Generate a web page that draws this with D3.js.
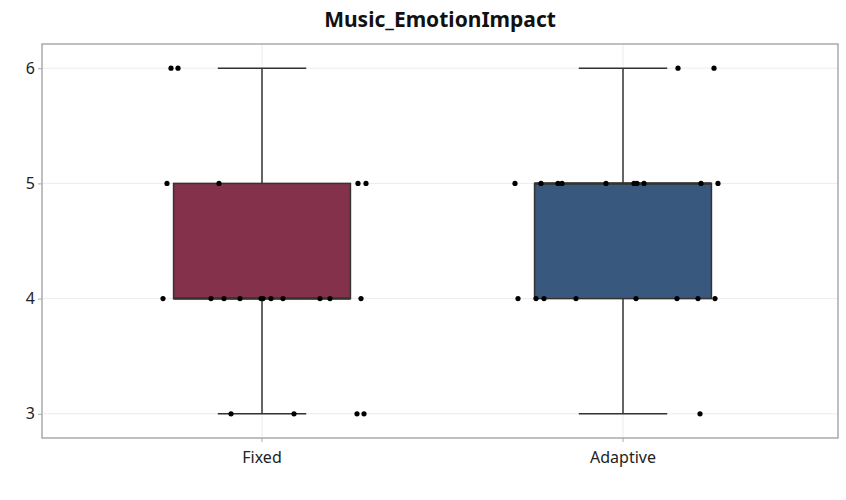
<!DOCTYPE html>
<html><head><meta charset="utf-8">
<script src="https://cdn.jsdelivr.net/npm/d3@7.9.0/dist/d3.min.js"></script>
<style>body{margin:0;background:#fff}svg{font-family:"Noto Sans",sans-serif}</style>
</head><body><svg id="chart" width="846" height="500"></svg>
<script>
const groups = ['Fixed', 'Adaptive'];
const colors = ['#84324b', '#38587e'];
const yTicks = [3, 4, 5, 6];
// box stats: [min, q1, median, q3, max]
const fixedStats = [3, 4, 4, 5, 6];
const adaptiveStats = [3, 4, 5, 5, 6];
// individual responses and horizontal jitter (px from group centre)
const fixedValues = [6, 6, 5, 5, 5, 5, 4, 4, 4, 4, 4, 4, 4, 4, 4, 4, 4, 3, 3, 3, 3];
const fixedJitter = [-91, -84, -95, -43, 96, 104, -99, -51, -38, -22, -1, 1, 9, 21, 58, 68, 99, -31, 32, 95, 102];
const adaptiveValues = [6, 6, 5, 5, 5, 5, 5, 5, 5, 5, 5, 5, 4, 4, 4, 4, 4, 4, 4, 4, 3];
const adaptiveJitter = [55, 91, -108, -82, -65, -61, -17, 11, 14, 21, 78, 95, -105, -87, -79, -47, 13, 54, 75, 92, 77];

const stats = [fixedStats, adaptiveStats];
const values = [fixedValues, adaptiveValues];
const jitter = [fixedJitter, adaptiveJitter];

const svg = d3.select('#chart');
const pLeft = 42, pRight = 838, pTop = 44, pBottom = 438;

const x = d3.scaleBand().domain(groups).range([81.5, 803.5]);
const y = d3.scaleLinear().domain([2.79, 6.21]).range([pBottom, pTop]);

// grid
svg.append('g').selectAll('line').data(yTicks).join('line')
  .attr('x1', pLeft).attr('x2', pRight).attr('y1', d => y(d)).attr('y2', d => y(d))
  .attr('stroke', '#ececec');
svg.append('g').selectAll('line').data(groups).join('line')
  .attr('y1', pTop).attr('y2', pBottom)
  .attr('x1', d => x(d) + x.bandwidth() / 2).attr('x2', d => x(d) + x.bandwidth() / 2)
  .attr('stroke', '#ececec');

const boxW = x.bandwidth() * 0.49;
groups.forEach((g, i) => {
  const cx = x(g) + x.bandwidth() / 2;
  const s = stats[i];
  const gg = svg.append('g');
  gg.append('line').attr('x1', cx).attr('x2', cx).attr('y1', y(s[0])).attr('y2', y(s[4]))
    .attr('stroke', '#333').attr('stroke-width', 1.5);
  [s[0], s[4]].forEach(v => gg.append('line')
    .attr('x1', cx - boxW / 4).attr('x2', cx + boxW / 4).attr('y1', y(v)).attr('y2', y(v))
    .attr('stroke', '#333').attr('stroke-width', 1.5));
  gg.append('rect').attr('x', cx - boxW / 2).attr('width', boxW)
    .attr('y', y(s[3])).attr('height', y(s[1]) - y(s[3]))
    .attr('fill', colors[i]).attr('stroke', '#333').attr('stroke-width', 1.5);
  gg.append('line').attr('x1', cx - boxW / 2).attr('x2', cx + boxW / 2)
    .attr('y1', y(s[2])).attr('y2', y(s[2])).attr('stroke', '#333').attr('stroke-width', 2.5);
  gg.selectAll('circle').data(values[i]).join('circle')
    .attr('cx', (d, j) => cx + jitter[i][j]).attr('cy', d => y(d)).attr('r', 2.6).attr('fill', '#000');
});

// panel border
svg.append('rect').attr('x', pLeft).attr('y', pTop).attr('width', pRight - pLeft).attr('height', pBottom - pTop)
  .attr('fill', 'none').attr('stroke', '#aaa').attr('stroke-width', 1.5);

// axes
const ya = svg.append('g').attr('transform', `translate(${pLeft},0)`)
  .call(d3.axisLeft(y).tickValues(yTicks).tickSize(4).tickFormat(d3.format('d')));
const xa = svg.append('g').attr('transform', `translate(0,${pBottom})`)
  .call(d3.axisBottom(x).tickSize(4));
[ya, xa].forEach(a => {
  a.select('.domain').remove();
  a.selectAll('line').attr('stroke', '#aaa');
  a.selectAll('text').attr('font-size', 16).attr('fill', '#222').attr('font-family', '"Noto Sans",sans-serif');
});
xa.selectAll('text').attr('dy', '1.1em');

svg.append('text').attr('x', 440).attr('y', 27).attr('text-anchor', 'middle')
  .attr('font-size', 21).attr('font-weight', 'bold').attr('fill', '#111').text('Music_EmotionImpact');
</script></body></html>
